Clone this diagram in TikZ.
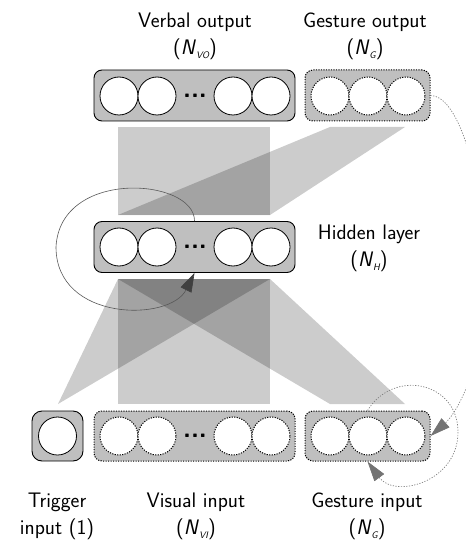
\documentclass[tikz,border=0pt]{standalone}
\usetikzlibrary{arrows.meta,calc}
\newcommand{\lsub}[1]{\raisebox{-0.5ex}{\fontsize{9.5}{9.5}\selectfont\itshape #1}}
\begin{document}
\begin{tikzpicture}[x=1pt,y=-1pt,
  font=\sffamily\fontsize{21}{27}\selectfont,
  layerbox/.style={draw=black, line width=0.9pt, fill=black!25, rounded corners=8pt,
    minimum width=#1, minimum height=51pt, inner sep=0pt},
  dotline/.style={line width=1pt, dash pattern=on 1.2pt off 1.3pt},
  dlayerbox/.style={layerbox=#1, dotline},
  unit/.style={circle, draw=black, fill=white, line width=0.8pt, minimum size=38pt, inner sep=0pt},
  dunit/.style={unit, dotline},
  ellipsis/.style={inner sep=0pt, font=\sffamily\bfseries\fontsize{26}{26}\selectfont},
  proj/.style={fill=black, fill opacity=0.2},
  label/.style={align=center, inner sep=0pt},
  recur/.style={draw=black!65, line width=0.6pt,
    -{Triangle[length=19pt,width=12pt,fill=black!75,color=black!75]}},
  gestline/.style={draw=black!50, line width=0.7pt, dash pattern=on 1.2pt off 1.5pt,
    -{Triangle[length=20pt,width=12pt,fill=black!55,color=black!55]}}
]
\useasboundingbox (0,0) rectangle (465,545);

% weight projections between the layers
\fill[proj] (118,127) rectangle (270,215);
\fill[proj] (330,127) -- (405,127) -- (270,215) -- (118,215) -- cycle;
\fill[proj] (118,279) rectangle (270,404);
\fill[proj] (118,279) -- (270,279) -- (58,404) -- cycle;
\fill[proj] (118,279) -- (270,279) -- (405,404) -- (330,404) -- cycle;

% output layers
\node[layerbox=201pt] (vo) at (194.5,95.5) {};
\node[unit] (vo1) at (119,96) {};
\node[unit] (vo2) at (157,96) {};
\node[ellipsis] (vodots) at (195,95.5) {...};
\node[unit] (vo3) at (233,96) {};
\node[unit] (vo4) at (271,96) {};

\node[dlayerbox=125pt] (gout) at (367.5,95.5) {};
\node[dunit] (gout1) at (330,96) {};
\node[dunit] (gout2) at (368,96) {};
\node[dunit] (gout3) at (406,96) {};

% hidden layer
\node[layerbox=201pt] (hid) at (194.5,247) {};
\node[unit] (hid1) at (119,247) {};
\node[unit] (hid2) at (157,247) {};
\node[ellipsis] (hiddots) at (195,246.5) {...};
\node[unit] (hid3) at (233,247) {};
\node[unit] (hid4) at (271,247) {};

% input layers
\node[layerbox=51pt, minimum height=50pt, rounded corners=10pt] (trig) at (57.5,436) {};
\node[unit] (trig1) at (57.5,436) {};

\node[dlayerbox=201pt, minimum height=50pt] (vi) at (194.5,436) {};
\node[dunit] (vi1) at (119,436) {};
\node[dunit] (vi2) at (157,436) {};
\node[ellipsis] (vidots) at (195,435.5) {...};
\node[dunit] (vi3) at (233,436) {};
\node[dunit] (vi4) at (271,436) {};

\node[dlayerbox=125pt, minimum height=50pt] (gin) at (367.5,436) {};
\node[dunit] (gin1) at (330,436) {};
\node[dunit] (gin2) at (368,436) {};
\node[dunit] (gin3) at (406,436) {};

% recurrent connections
\draw[recur] (hid.north) .. controls (195,178) and (60,168) .. (56,247)
  .. controls (56,322) and (170,322) .. (hid.south);
\draw[gestline] (gin.north) .. controls (394,368) and (458,382) .. (458,432)
  .. controls (458,482) and (395,499) .. (gin.south);
\draw[gestline] (gout.east) .. controls (455,95) and (480,160) .. (485,260)
  .. controls (490,350) and (460,410) .. (gin.east);

% layer labels
\node[label] (lvo) at (195,36) {Verbal output\\(\textit{N}\lsub{VO})};
\node[label] (lgo) at (365,36) {Gesture output\\(\textit{N}\lsub{G})};
\node[label] (lhid) at (369,248) {Hidden layer\\(\textit{N}\lsub{H})};
\node[label] (ltrig) at (57,516) {Trigger\\input (1)};
\node[label] (lvi) at (196,516) {Visual input\\(\textit{N}\lsub{VI})};
\node[label] (lgi) at (367,516) {Gesture input\\(\textit{N}\lsub{G})};
\end{tikzpicture}
\end{document}
